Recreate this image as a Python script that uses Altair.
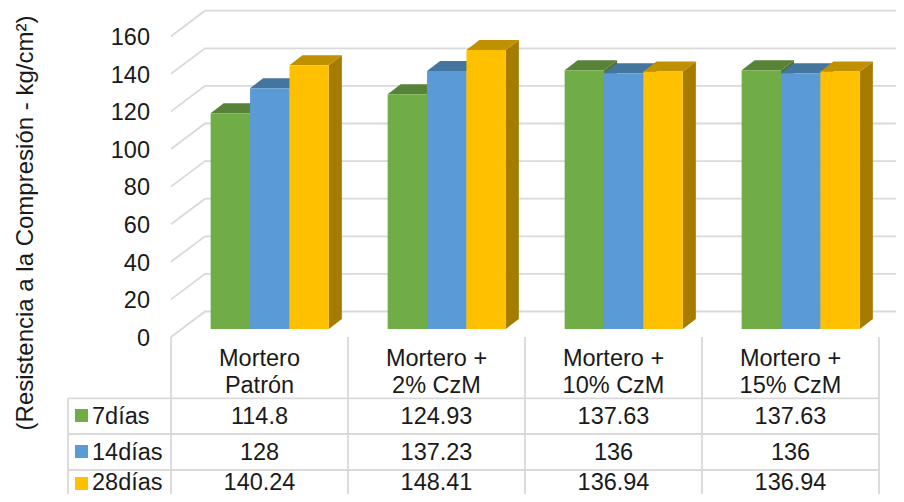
import altair as alt
import pandas as pd

categories = [["Mortero", "Patrón"], ["Mortero +", "2% CzM"], ["Mortero +", "10% CzM"], ["Mortero +", "15% CzM"]]
series_names = ["7días", "14días", "28días"]
series_values = [
    [114.8, 124.93, 137.63, 137.63],
    [128, 137.23, 136, 136],
    [140.24, 148.41, 136.94, 136.94],
]
table_labels = [
    ["114.8", "124.93", "137.63", "137.63"],
    ["128", "137.23", "136", "136"],
    ["140.24", "148.41", "136.94", "136.94"],
]
front_colors = ["#70AD47", "#5B9BD5", "#FFC000"]
top_colors = ["#588238", "#44759F", "#BF9000"]
side_colors = ["#4B7630", "#3A6690", "#A67C00"]
y_ticks = [0, 20, 40, 60, 80, 100, 120, 140, 160]
axis_title = "(Resistencia a la Compresión - kg/cm²)"

GRID = "#D9D9D9"
TXT = "#1A1A1A"
W, H = 888, 486
CAT = 177.0
UNIT = 1.88
FS = 23.5
TEXT_DY = 1.4
BOTTOM = 8 + H
RIGHT = 8 + W

# page pixel -> data helpers (page margin is 8px)
def X(px):
    return (px - 171) / CAT - 0.5

def Y(px):
    return (329 - px) / UNIT

xs = alt.Scale(domain=[X(8), X(RIGHT)], range=[0, W], nice=False, zero=False)
ys = alt.Scale(domain=[Y(BOTTOM), Y(8)], range=[H, 0], nice=False, zero=False)

# bars
bar_w = 39.4 / CAT
shift = 10.25 / CAT
dx = 13 / CAT
dy = 10 / UNIT
polys = []
pid = 0
for ci in range(4):
    for si in range(3):
        v = series_values[si][ci]
        xl = ci + shift + (si - 1.5) * bar_w
        xr = xl + bar_w
        faces = [
            (side_colors[si], [(xr, v, 0), (xr + dx, v + dy, dy)]),
            (top_colors[si], [(xl, v, v), (xl + dx, v + dy, v), (xr, v + dy, v), (xr + dx, v + dy, v + dy)]),
            (front_colors[si], [(xl, v, 0), (xr, v, 0)]),
        ]
        for col, pts in faces:
            for x, a, b in pts:
                polys.append({"pid": f"p{pid:03d}", "x": x, "y": a, "y2": b, "fill": col})
            pid += 1
bars = alt.Chart(pd.DataFrame(polys)).mark_area(interpolate="linear").encode(
    x=alt.X("x:Q", scale=xs, axis=None),
    y=alt.Y("y:Q", scale=ys, axis=None, stack=None),
    y2=alt.Y2("y2:Q"),
    fill=alt.Fill("fill:N", scale=None),
    detail=alt.Detail("pid:N"),
)

# grid lines: side-wall diagonal then back wall, plus table rules
lines = []
lid = 0
back0 = 311.5
step = 37.6
front0 = 337
for i, t in enumerate(y_ticks):
    by = back0 - step * i
    fy = front0 - 37.6 * i
    for x, y in [(171, fy), (205, by), (RIGHT, by)]:
        lines.append({"lid": lid, "x": X(x), "y": Y(y)})
    lid += 1
for px in [171, 348, 525, 702, 879]:
    for y in [337, BOTTOM]:
        lines.append({"lid": lid, "x": X(px), "y": Y(y)})
    lid += 1
for y in [398.3, 434, 470]:
    for px in [68, 879]:
        lines.append({"lid": lid, "x": X(px), "y": Y(y)})
    lid += 1
for y in [398.3, BOTTOM]:
    lines.append({"lid": lid, "x": X(68), "y": Y(y)})
lid += 1
grid = alt.Chart(pd.DataFrame(lines)).mark_line(color=GRID, strokeWidth=1.8, interpolate="linear").encode(
    x=alt.X("x:Q", scale=xs, axis=None),
    y=alt.Y("y:Q", scale=ys, axis=None),
    detail="lid:N",
    order=alt.Order("x:Q"),
)

# text
texts = []
for i, t in enumerate(y_ticks):
    texts.append({"x": X(150), "y": Y(337.3 - 37.6 * i + TEXT_DY), "t": str(t), "a": "right"})
for ci, lab in enumerate(categories):
    texts.append({"x": ci, "y": Y(358 + TEXT_DY), "t": lab[0], "a": "center"})
    texts.append({"x": ci, "y": Y(385 + TEXT_DY), "t": lab[1], "a": "center"})
for si, row in enumerate(table_labels):
    yy = Y([416, 452, 482][si] + TEXT_DY)
    texts.append({"x": X(92), "y": yy, "t": series_names[si], "a": "left"})
    for ci, s in enumerate(row):
        texts.append({"x": ci, "y": yy, "t": s, "a": "center"})
tdf = pd.DataFrame(texts)
txt_layers = []
for a in ["left", "center", "right"]:
    txt_layers.append(
        alt.Chart(tdf[tdf.a == a]).mark_text(font="Liberation Sans", fontSize=FS, color=TXT, align=a, baseline="middle").encode(
            x=alt.X("x:Q", scale=xs, axis=None),
            y=alt.Y("y:Q", scale=ys, axis=None),
            text="t:N",
        )
    )

title = alt.Chart(pd.DataFrame([{"x": X(26), "y": Y(223), "t": axis_title}])).mark_text(
    font="Liberation Sans", fontSize=24, color=TXT, angle=270, align="center", baseline="middle"
).encode(
    x=alt.X("x:Q", scale=xs, axis=None),
    y=alt.Y("y:Q", scale=ys, axis=None),
    text="t:N",
)

keys = alt.Chart(pd.DataFrame([
    {"x": X(81.5), "y": Y(415.5 + 36 * si - (4 if si == 2 else 0)), "c": front_colors[si]} for si in range(3)
])).mark_square(size=169, opacity=1).encode(
    x=alt.X("x:Q", scale=xs, axis=None),
    y=alt.Y("y:Q", scale=ys, axis=None),
    fill=alt.Fill("c:N", scale=None),
)

chart = alt.layer(grid, bars, keys, title, *txt_layers).properties(
    width=W, height=H, padding=0, autosize=alt.AutoSizeParams(type="none")
).configure_view(stroke=None)

chart.save("out.html", embed_options={"renderer": "svg", "actions": False})
